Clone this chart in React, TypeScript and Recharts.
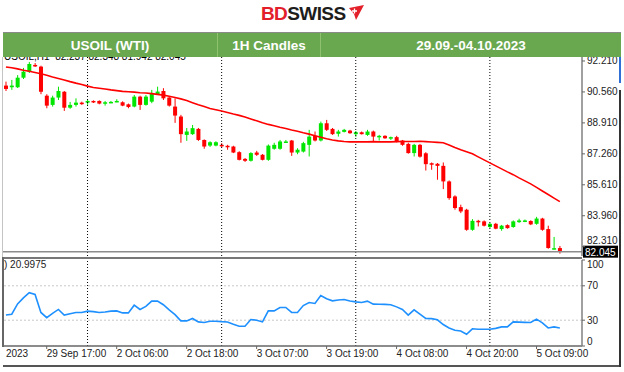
import React from 'react'
import { ComposedChart, Bar, Line, XAxis, YAxis, ReferenceLine } from 'recharts'

const FONT = '"Liberation Sans", Arial, sans-serif'

// hourly candles, 29 Sep 10:00 .. 5 Oct 14:00
const opens = [
  90.9, 90.81, 90.81, 91.32, 91.64, 92.0, 91.91, 90.36, 89.87, 90.26,
  90.57, 89.72, 89.87, 89.99, 89.99, 90.08, 90.08, 89.96, 89.99, 90.03,
  90.01, 89.9, 89.78, 90.31, 89.87, 90.04, 90.44, 90.61, 90.26, 89.78,
  89.25, 88.27, 88.31, 88.59, 88.0, 87.7, 87.7, 87.74, 87.69, 87.65,
  87.35, 86.99, 86.89, 87.33, 87.21, 86.94, 87.53, 87.53, 87.88, 87.97,
  87.33, 87.38, 87.74, 88.22, 87.97, 88.89, 88.59, 88.33, 88.43, 88.5,
  88.31, 88.41, 88.27, 88.45, 88.15, 88.22, 88.07, 88.15, 87.97, 87.79,
  87.3, 87.74, 87.29, 86.76, 86.73, 86.62, 85.79, 84.99, 84.42, 84.28,
  83.21, 83.69, 83.66, 83.36, 83.53, 83.25, 83.46, 83.36, 83.62, 83.64,
  83.68, 83.53, 83.81, 83.25, 82.19, 82.237,
]
const highs = [
  91.11, 91.2, 91.46, 91.84, 92.16, 92.1, 91.96, 90.44, 90.36, 90.84,
  90.61, 90.03, 90.22, 90.04, 90.13, 90.11, 90.11, 90.08, 90.08, 90.17,
  90.06, 89.94, 90.4, 90.36, 90.4, 90.67, 90.84, 90.76, 90.31, 90.22,
  89.34, 88.64, 88.8, 88.64, 88.03, 87.93, 87.93, 87.83, 87.74, 87.69,
  87.4, 87.04, 87.35, 87.42, 87.25, 87.76, 87.85, 88.0, 88.0, 88.0,
  87.56, 87.9, 88.54, 88.45, 88.98, 89.07, 88.64, 88.54, 88.59, 88.54,
  88.48, 88.45, 88.54, 88.5, 88.27, 88.25, 88.18, 88.22, 88.0, 87.85,
  87.79, 87.79, 87.35, 86.8, 86.77, 86.8, 85.84, 85.05, 84.55, 84.33,
  83.78, 83.74, 83.71, 83.58, 83.58, 83.47, 83.5, 83.71, 83.8, 83.76,
  83.72, 83.9, 83.85, 83.43, 82.83, 82.348,
]
const lows = [
  90.61, 90.67, 90.77, 91.25, 91.57, 91.89, 90.44, 89.69, 89.78, 90.13,
  89.55, 89.66, 89.78, 89.87, 89.87, 89.97, 89.9, 89.83, 89.96, 90.01,
  89.8, 89.69, 89.74, 89.6, 89.83, 89.96, 90.4, 90.13, 89.78, 88.91,
  87.85, 87.95, 88.27, 87.95, 87.53, 87.63, 87.66, 87.61, 87.48, 87.3,
  86.91, 86.83, 86.85, 87.15, 86.91, 86.89, 87.48, 87.48, 87.85, 87.15,
  87.24, 87.33, 87.12, 87.92, 87.92, 88.48, 88.27, 88.18, 88.4, 88.33,
  88.17, 88.29, 88.22, 87.92, 87.97, 88.06, 88.0, 87.87, 87.69, 87.27,
  87.12, 87.06, 86.37, 86.41, 85.88, 85.38, 84.81, 84.28, 84.1, 83.16,
  83.16, 83.39, 83.39, 83.3, 83.24, 83.16, 83.27, 83.32, 83.58, 83.62,
  83.46, 83.48, 83.16, 82.2, 82.17, 81.942,
]
const closes = [
  90.72, 90.9, 91.32, 91.64, 92.05, 91.94, 90.57, 89.83, 90.26, 90.61,
  89.72, 89.87, 89.99, 89.94, 90.08, 90.01, 89.94, 90.01, 90.03, 90.08,
  89.83, 89.76, 90.31, 89.87, 90.31, 90.49, 90.58, 90.22, 89.83, 89.3,
  88.31, 88.45, 88.63, 88.0, 87.65, 87.88, 87.88, 87.67, 87.62, 87.33,
  86.94, 86.89, 87.3, 87.21, 86.94, 87.7, 87.74, 87.92, 87.92, 87.33,
  87.48, 87.83, 88.18, 87.97, 88.89, 88.54, 88.31, 88.45, 88.54, 88.36,
  88.41, 88.31, 88.45, 88.18, 88.22, 88.09, 88.15, 87.91, 87.74, 87.3,
  87.74, 87.11, 86.71, 86.68, 86.62, 85.79, 84.9, 84.37, 84.19, 83.21,
  83.69, 83.64, 83.43, 83.53, 83.27, 83.43, 83.3, 83.66, 83.71, 83.71,
  83.5, 83.81, 83.21, 82.24, 82.23, 82.045,
]
const movingAvg = [
  91.89, 91.85, 91.79, 91.72, 91.66, 91.6, 91.53, 91.45, 91.36, 91.28,
  91.2, 91.11, 91.03, 90.96, 90.87, 90.8, 90.76, 90.72, 90.67, 90.63,
  90.59, 90.57, 90.55, 90.52, 90.5, 90.47, 90.43, 90.39, 90.33, 90.26,
  90.19, 90.1, 89.99, 89.88, 89.78, 89.68, 89.61, 89.54, 89.46, 89.38,
  89.31, 89.22, 89.12, 89.02, 88.92, 88.83, 88.76, 88.68, 88.61, 88.53,
  88.46, 88.38, 88.31, 88.22, 88.14, 88.06, 88.0, 87.95, 87.92, 87.9,
  87.9, 87.9, 87.9, 87.91, 87.9, 87.9, 87.9, 87.91, 87.92, 87.92,
  87.92, 87.93, 87.91, 87.89, 87.87, 87.85, 87.73, 87.6, 87.48, 87.37,
  87.26, 87.1, 86.94, 86.78, 86.62, 86.46, 86.3, 86.15, 85.98, 85.82,
  85.66, 85.47, 85.28, 85.09, 84.9, 84.71,
]
const rsi = [
  36, 37, 49, 56, 62, 60, 39, 33, 38, 42.5,
  36, 37.5, 39, 39, 40.5, 40, 39, 39.5, 40.5, 40.8,
  38.5, 38.5, 47.5, 42.5, 46, 52.2, 52.2, 48, 42, 36.5,
  29.2, 29.2, 32, 28, 27.3, 28.8, 28.8, 28.3, 28, 25.3,
  23, 23, 30.8, 30, 28, 40.8, 40.8, 44.8, 44.8, 39,
  39, 47, 50.6, 49.5, 58.6, 55, 52.5, 53.5, 54, 52.3,
  51.3, 50.6, 52.2, 48.7, 48.5, 48.4, 48, 45.5, 42.5, 36,
  42, 37, 32, 31.8, 30.5, 25, 21, 18.3, 17.5, 13.7,
  20, 19.5, 19.5, 19.5, 20.5, 22.2, 22.2, 28, 27.8, 27.5,
  27.3, 31.3, 27, 21, 22.2, 20.9975,
]

const timeTicks = [0, 7, 19, 31, 43, 55, 67, 79, 91]
const timeLabels = ['2023', '29 Sep 17:00', '2 Oct 06:00', '2 Oct 18:00', '3 Oct 07:00', '3 Oct 19:00', '4 Oct 08:00', '4 Oct 20:00', '5 Oct 09:00']
const daySeparators = [14, 37, 60, 83]
const priceTicks = [82.31, 83.96, 85.61, 87.26, 88.91, 90.56, 92.21]
const rsiTicks = [0, 30, 70, 100]
const lastPrice = 82.045

const candles = opens.map((o, i) => ({
  i,
  open: o,
  high: highs[i],
  low: lows[i],
  close: closes[i],
  range: [lows[i], highs[i]],
  ma: movingAvg[i],
  rsi: rsi[i],
}))

const X_DOMAIN: [number, number] = [-0.5, 98.8]

function Candle(props: any) {
  const { x, y, width, height, payload } = props
  if (!payload || x == null) return null
  const { open, high, low, close } = payload
  const top = Math.min(y, y + height)
  const bot = Math.max(y, y + height)
  const span = high - low || 1
  const toY = (v: number) => top + ((high - v) / span) * (bot - top)
  const up = close >= open
  const color = up ? '#00e600' : '#ff0000'
  const cx = x + width / 2
  const bTop = toY(Math.max(open, close))
  const bBot = toY(Math.min(open, close))
  return (
    <g>
      <line x1={cx} x2={cx} y1={top} y2={bot} stroke={color} strokeWidth={1} />
      <rect x={cx - 2} y={bTop} width={4} height={Math.max(bBot - bTop, 1.5)} fill={color} />
    </g>
  )
}

function BidTag(props: any) {
  const vb = props.viewBox
  if (!vb) return null
  const x = vb.x + vb.width + 1
  return (
    <g>
      <rect x={x} y={vb.y - 6} width={35} height={12} fill="#000" />
      <text x={x + 2} y={vb.y + 4} fontSize={10} fill="#fff" fontFamily={FONT}>{lastPrice.toFixed(3)}</text>
    </g>
  )
}

function PriceTick({ x, y, payload }: any) {
  const v = payload.value
  // the lowest label sits just above the bid tag, as in the terminal
  const dy = v === priceTicks[0] ? -3 : 3.5
  return (
    <g>
      <line x1={x - 5} x2={x - 2} y1={y} y2={y} stroke="#666" />
      <text x={x} y={y + dy} fontSize={10} fill="#222" fontFamily={FONT}>{v.toFixed(3)}</text>
    </g>
  )
}

function TimeTick({ x, y, payload }: any) {
  const label = timeLabels[timeTicks.indexOf(payload.value)]
  return (
    <g>
      {payload.value > 0 && <line x1={x} x2={x} y1={y} y2={y + 3} stroke="#666" />}
      <text x={x} y={y + 11} fontSize={10} fill="#222" fontFamily={FONT} textAnchor="start">{label}</text>
    </g>
  )
}

function RsiTick({ x, y, payload }: any) {
  const v = payload.value
  const dy = v === 100 ? 8 : v === 0 ? -1 : 3.5
  return (
    <g>
      <line x1={x - 5} x2={x - 2} y1={y} y2={y} stroke="#666" />
      <text x={x} y={y + dy} fontSize={10} fill="#222" fontFamily={FONT}>{v}</text>
    </g>
  )
}

function Logo() {
  return (
    <div style={{ position: 'absolute', left: 261, top: 2, height: 24, display: 'flex', alignItems: 'center' }}>
      <span style={{ fontFamily: FONT, fontWeight: 700, fontSize: 19, letterSpacing: -0.6, color: '#e3202a' }}>BD</span>
      <span style={{ fontFamily: FONT, fontWeight: 700, fontSize: 19, letterSpacing: -0.6, color: '#1d1d1b' }}>SWISS</span>
      <svg width={18} height={16} style={{ marginLeft: 1, marginTop: -3 }}>
        <polygon points="3,3 18,0 10,15 8,9" fill="#e3202a" />
        <path d="M6 6 h5 M8.5 3.5 v5" stroke="#fff" strokeWidth={1.3} />
      </svg>
    </div>
  )
}

function Header() {
  const cell = (w: number, text: string, border: boolean) => (
    <div
      style={{
        width: w,
        height: '100%',
        display: 'flex',
        alignItems: 'center',
        justifyContent: 'center',
        color: '#ffffff',
        fontFamily: FONT,
        fontWeight: 700,
        fontSize: 13.5,
        borderLeft: border ? '1px solid #8fc26f' : 'none',
        boxSizing: 'border-box',
      }}
    >
      {text}
    </div>
  )
  return (
    <div
      style={{
        position: 'absolute',
        left: 3,
        top: 32,
        width: 618,
        height: 25,
        background: '#6aa84f',
        borderTop: '1px solid #8a8a8a',
        boxSizing: 'border-box',
        display: 'flex',
        zIndex: 5,
      }}
    >
      {cell(214, 'USOIL (WTI)', false)}
      {cell(103, '1H Candles', true)}
      {cell(301, '29.09.-04.10.2023', true)}
    </div>
  )
}

export default function App() {
  return (
    <div style={{ position: 'absolute', left: 0, top: 0, width: 624, height: 372, background: '#fff', overflow: 'hidden' }}>
      <Logo />
      <div style={{ position: 'absolute', left: 4, top: 51, fontFamily: FONT, fontSize: 10, color: '#000', whiteSpace: 'pre' }}>
        {'USOIL,H1  82.237 82.348 81.942 82.045'}
      </div>

      <div style={{ position: 'absolute', left: 0, top: 0 }}>
        <ComposedChart width={624} height={260} data={candles} margin={{ top: 57, right: 6, bottom: 4, left: 3 }}>
          <XAxis dataKey="i" type="number" domain={X_DOMAIN} hide allowDataOverflow />
          <YAxis
            yAxisId="p"
            orientation="right"
            width={36}
            domain={[81.814, 92.423]}
            ticks={priceTicks}
            interval={0}
            allowDataOverflow
            tick={<PriceTick />}
            tickSize={3}
            tickMargin={2}
            tickLine={false}
            axisLine={{ stroke: '#808080', strokeWidth: 1.5 }}
          />
          {daySeparators.map((d) => (
            <ReferenceLine key={d} yAxisId="p" x={d} stroke="#000" strokeDasharray="1 2" />
          ))}
          <ReferenceLine yAxisId="p" y={lastPrice} stroke="#8c8c8c" strokeWidth={1.5} label={<BidTag />} />
          <Bar yAxisId="p" dataKey="range" barSize={4} shape={<Candle />} isAnimationActive={false} />
          <Line yAxisId="p" dataKey="ma" stroke="#ff0000" strokeWidth={1.6} dot={false} isAnimationActive={false} />
        </ComposedChart>
      </div>

      <div style={{ position: 'absolute', left: 0, top: 250 }}>
        <ComposedChart width={624} height={122} data={candles} margin={{ top: 10, right: 6, bottom: 0, left: 3 }}>
          <XAxis
            dataKey="i"
            type="number"
            domain={X_DOMAIN}
            allowDataOverflow
            ticks={timeTicks}
            interval={0}
            height={26}
            tick={<TimeTick />}
            tickLine={false}
            tickSize={0}
            tickMargin={0}
            axisLine={{ stroke: '#666', strokeWidth: 1.5 }}
          />
          <YAxis
            yAxisId="r"
            orientation="right"
            width={36}
            domain={[0, 100]}
            ticks={rsiTicks}
            interval={0}
            tick={<RsiTick />}
            tickSize={3}
            tickMargin={2}
            tickLine={false}
            axisLine={{ stroke: '#808080', strokeWidth: 1.5 }}
          />
          <ReferenceLine yAxisId="r" y={70} stroke="#c8c8c8" strokeDasharray="2 2" />
          <ReferenceLine yAxisId="r" y={30} stroke="#c8c8c8" strokeDasharray="2 2" />
          {daySeparators.map((d) => (
            <ReferenceLine key={d} yAxisId="r" x={d} stroke="#000" strokeDasharray="1 2" />
          ))}
          <Line yAxisId="r" dataKey="rsi" stroke="#1e90ff" strokeWidth={1.6} dot={false} isAnimationActive={false} />
        </ComposedChart>
      </div>

      <div style={{ position: 'absolute', left: 4, top: 259, fontFamily: FONT, fontSize: 10, color: '#222' }}>) 20.9975</div>

      {/* panel frame */}
      <div style={{ position: 'absolute', left: 3, top: 257, width: 579, borderTop: '2px solid #777' }} />
      <div style={{ position: 'absolute', left: 2, top: 57, height: 200, borderLeft: '1px solid #c4c4c4' }} />
      <div style={{ position: 'absolute', left: 2, top: 257, height: 90, borderLeft: '2px solid #666' }} />
      <div style={{ position: 'absolute', left: 3, top: 365, width: 616, borderTop: '2px solid #555' }} />
      <div style={{ position: 'absolute', left: 619, top: 57, height: 26, borderLeft: '2px solid #2f6fd6' }} />
      <div style={{ position: 'absolute', left: 619, top: 90, height: 277, borderLeft: '2px solid #333' }} />

      <Header />
    </div>
  )
}
